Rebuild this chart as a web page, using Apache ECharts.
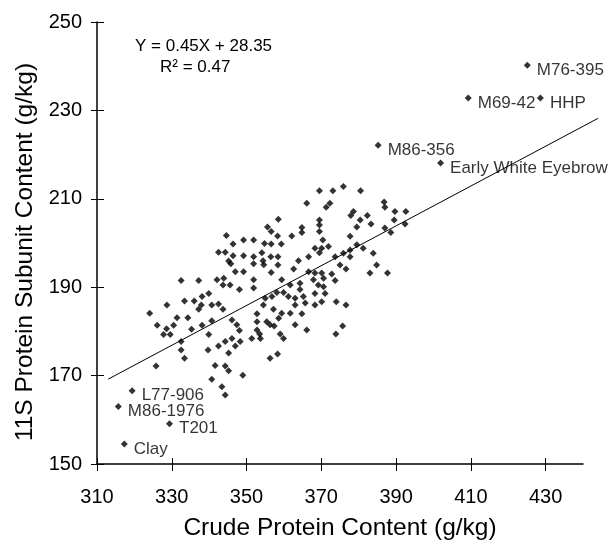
<!DOCTYPE html>
<html>
<head>
<meta charset="utf-8">
<script src="https://cdn.jsdelivr.net/npm/echarts@6/dist/echarts.min.js"></script>
<style>
html,body{margin:0;padding:0;background:#fff;}
#chart{width:613px;height:546px;}
</style>
</head>
<body>
<div id="chart"></div>
<script>
// Crude protein (g/kg) of unlabeled lines
var crudeProtein = [
  332.5,337.2,333.4,336.0,338.1,339.9,340.7,337.9,337.2,328.7,324.1,331.4,334.3,326.1,330.5,328.6,327.8,329.6,335.3,338.1,339.9,340.7,332.5,332.5,333.4,339.7,325.8,340.7,341.6,
  366.1,358.5,355.6,356.6,358.3,362.1,364.8,364.8,344.6,349.2,351.9,354.8,356.6,359.3,346.4,342.5,344.3,346.4,345.2,345.8,349.2,351.9,351.9,354.1,354.4,354.6,356.5,358.4,358.4,363.9,366.6,347.0,349.2,342.1,343.9,343.7,345.6,348.1,351.9,351.9,356.6,359.4,362.6,361.7,364.3,364.3,366.6,358.1,359.9,355.0,356.8,361.2,363.0,365.2,
  342.5,343.7,346.1,347.4,348.1,352.8,354.5,357.2,355.4,356.3,357.4,358.6,359.4,361.7,363.0,364.8,365.7,363.0,366.1,352.8,353.5,351.4,353.7,359.0,359.9,346.1,344.3,342.5,347.0,348.3,345.2,356.3,358.3,344.3,345.2,349.0,343.4,344.3,352.8,
  369.5,373.1,375.9,380.5,371.3,372.3,387.0,386.8,389.7,392.6,378.6,377.9,380.4,382.3,383.3,379.5,369.5,369.5,369.5,389.5,392.4,387.0,388.6,377.7,370.4,368.3,370.1,371.9,369.5,373.7,375.9,377.7,377.7,379.5,381.2,383.9,375.0,376.6,384.8,383.0,387.7,368.3,370.1,370.6,372.8,373.7,367.9,369.2,370.6,368.3,371.0,370.1,368.3,374.0,376.6,
  375.7,373.9
];
// 11S protein subunit (g/kg) of unlabeled lines
var subunit = [
  191.5,191.5,186.9,186.9,187.9,188.6,186.0,186.0,185.0,186.0,184.1,183.1,183.1,181.4,181.4,180.6,179.3,179.3,180.5,181.4,179.3,182.4,177.7,175.8,173.9,175.8,172.2,169.2,172.3,
  209.0,205.4,203.6,202.6,201.6,201.6,203.5,202.4,201.7,200.7,200.7,199.9,199.8,199.8,199.8,197.9,197.9,197.1,195.9,195.3,197.1,196.9,195.3,197.8,196.0,195.1,196.9,196.9,195.0,196.0,196.9,193.5,193.5,191.7,192.0,190.5,190.5,189.5,191.7,189.8,193.3,191.7,194.1,190.5,190.9,189.5,193.5,188.8,188.8,187.5,187.9,187.9,187.5,187.9,
  186.2,185.0,182.6,181.5,180.2,184.0,186.0,185.0,182.2,181.5,181.2,183.0,184.1,184.1,186.0,184.0,186.4,181.5,180.3,180.3,179.4,178.4,178.4,179.4,178.4,178.4,177.7,176.7,176.7,177.7,175.1,173.9,174.9,172.2,171.1,170.1,167.5,165.6,182.2,
  211.8,211.8,212.8,211.8,208.1,209.0,208.1,209.3,207.1,207.1,207.1,206.2,205.2,206.2,204.3,203.6,205.2,204.1,202.6,205.2,204.3,203.4,202.4,201.5,200.7,198.8,198.8,199.2,197.8,196.9,197.7,198.4,196.9,199.6,198.8,197.7,195.0,194.1,195.0,193.2,193.2,193.2,193.2,192.0,193.0,191.5,191.7,190.5,190.1,188.6,188.6,186.7,186.0,186.7,186.0,
  181.2,179.4
];
// Named lines
var labelNames = ['M76-395','M69-42','HHP','M86-356','Early White Eyebrow','L77-906','M86-1976','T201','Clay'];
var labelX = [425.1, 409.3, 428.6, 385.2, 401.9, 319.4, 315.7, 329.4, 317.3];
var labelY = [240.2, 232.8, 232.8, 222.1, 218.1, 166.6, 163.0, 159.1, 154.5];
// Regression line ends
var fitX = [313, 444];
var fitY = [169.2, 228.2];
var equationText = 'Y = 0.45X + 28.35';
var r2Text = 'R\u00B2 = 0.47';
var xTicks = [310, 330, 350, 370, 390, 410, 430];
var yTicks = [150, 170, 190, 210, 230, 250];

var FONT = '"Liberation Sans", Arial, Helvetica, sans-serif';
var pts = crudeProtein.map(function (x, i) { return [x, subunit[i]]; });
var named = labelNames.map(function (n, i) { return { name: n, value: [labelX[i], labelY[i]] }; });
var fit = fitX.map(function (x, i) { return [x, fitY[i]]; });

var chart = echarts.init(document.getElementById('chart'), null, { renderer: 'canvas' });
var axisCommonX = { type: 'value', min: 310, max: 440, interval: 20, gridIndex: 0, position: 'bottom', splitLine: { show: false } };
var axisCommonY = { type: 'value', min: 150, max: 250, interval: 20, gridIndex: 0, position: 'left', splitLine: { show: false } };
var hidden = { show: false };
chart.setOption({
  backgroundColor: '#fff',
  animation: false,
  textStyle: { fontFamily: FONT },
  title: [
    { text: equationText, left: 135, top: 38, padding: 0, textStyle: { fontFamily: FONT, fontSize: 17, fontWeight: 'normal', color: '#000' } },
    { text: r2Text, left: 160, top: 59, padding: 0, textStyle: { fontFamily: FONT, fontSize: 17, fontWeight: 'normal', color: '#000' } }
  ],
  grid: [
    { left: 97, right: 30, top: 22, bottom: 82, containLabel: false },
    // wider twin grid so the fitted line can run past the axis end, as in the original
    { left: 97, right: 15, top: 22, bottom: 82, containLabel: false }
  ],
  xAxis: [
    Object.assign({}, axisCommonX, {
      name: 'Crude Protein Content (g/kg)', nameLocation: 'middle', nameGap: 52,
      nameTextStyle: { fontFamily: FONT, fontSize: 24.5, color: '#000' },
      axisLine: { show: true, onZero: false, lineStyle: { color: '#000', width: 1.5 } },
      axisTick: { show: true, inside: false, length: 7, customValues: xTicks, lineStyle: { color: '#000', width: 1 } },
      axisLabel: { fontFamily: FONT, fontSize: 20, color: '#000', margin: 23, customValues: xTicks }
    }),
    Object.assign({}, axisCommonX, {
      axisLine: { show: false },
      axisTick: { show: true, inside: true, length: 6, customValues: xTicks, lineStyle: { color: '#000', width: 1 } },
      axisLabel: { show: false }
    }),
    { type: 'value', gridIndex: 1, min: 310, max: 444, axisLine: hidden, axisTick: hidden, axisLabel: hidden, splitLine: hidden }
  ],
  yAxis: [
    Object.assign({}, axisCommonY, {
      name: '11S Protein Subunit Content (g/kg)', nameLocation: 'middle', nameGap: 57,
      nameTextStyle: { fontFamily: FONT, fontSize: 24.5, color: '#000', padding: [0, 18, 0, 0] },
      axisLine: { show: true, onZero: false, lineStyle: { color: '#000', width: 1.5 } },
      axisTick: { show: true, inside: false, length: 6, customValues: yTicks, lineStyle: { color: '#000', width: 1 } },
      axisLabel: { fontFamily: FONT, fontSize: 20, color: '#000', margin: 15, customValues: yTicks }
    }),
    Object.assign({}, axisCommonY, {
      axisLine: { show: false },
      axisTick: { show: true, inside: true, length: 7, customValues: yTicks, lineStyle: { color: '#000', width: 1 } },
      axisLabel: { show: false }
    }),
    { type: 'value', gridIndex: 1, min: 150, max: 250, axisLine: hidden, axisTick: hidden, axisLabel: hidden, splitLine: hidden }
  ],
  series: [
    {
      type: 'line', data: fit, xAxisIndex: 2, yAxisIndex: 2,
      symbol: 'none', lineStyle: { color: '#000', width: 1 }, silent: true, z: 1
    },
    {
      type: 'scatter', data: pts, xAxisIndex: 0, yAxisIndex: 0,
      symbol: 'diamond', symbolSize: 7, itemStyle: { color: '#000' }, z: 2
    },
    {
      type: 'scatter', data: named, xAxisIndex: 0, yAxisIndex: 0,
      symbol: 'diamond', symbolSize: 7, itemStyle: { color: '#000' }, z: 3,
      label: {
        show: true, position: 'right', distance: 6, offset: [0, 5],
        formatter: '{b}', fontFamily: FONT, fontSize: 17, color: '#000'
      }
    }
  ]
});
</script>
</body>
</html>
